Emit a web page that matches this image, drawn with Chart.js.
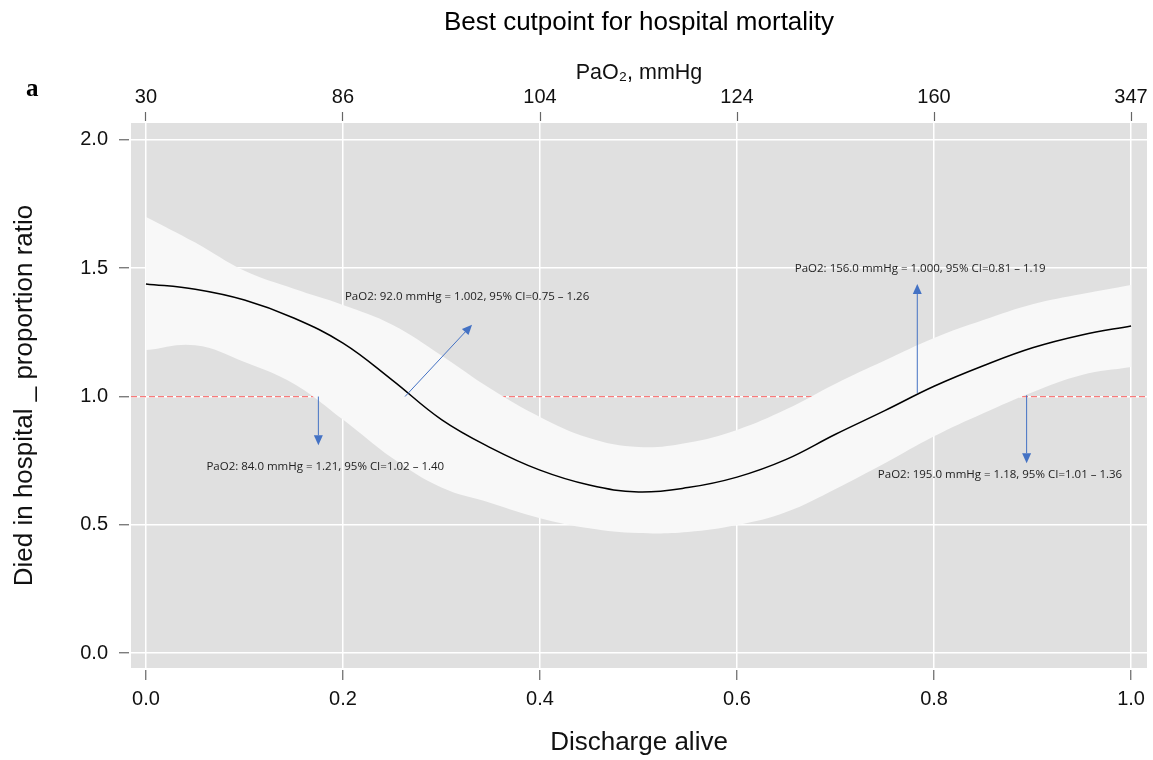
<!DOCTYPE html>
<html>
<head>
<meta charset="utf-8">
<title>Best cutpoint for hospital mortality</title>
<script src="https://cdn.jsdelivr.net/npm/chart.js@4.4.1/dist/chart.umd.min.js"></script>
<style>
  body { margin: 0; background: #ffffff; }
  #wrap { width: 1153px; height: 760px; position: relative; }
</style>
</head>
<body>
<div id="wrap"><canvas id="cutpointChart"></canvas></div>
<script>
// x positions of the fitted curve (Discharge alive)
const xValues = [0.00, 0.05, 0.10, 0.15, 0.20, 0.25, 0.30, 0.35, 0.40, 0.45, 0.50,
                 0.55, 0.60, 0.65, 0.70, 0.75, 0.80, 0.85, 0.90, 0.95, 1.00];
// proportion ratio and its 95% CI
const fitValues = [1.439, 1.418, 1.376, 1.306, 1.208, 1.064, 0.910, 0.800, 0.713, 0.655, 0.628,
                   0.645, 0.686, 0.755, 0.853, 0.945, 1.040, 1.120, 1.190, 1.240, 1.275];
const upperValues = [1.700, 1.600, 1.490, 1.420, 1.357, 1.280, 1.160, 1.030, 0.920, 0.838, 0.803,
                     0.820, 0.870, 0.950, 1.050, 1.140, 1.228, 1.298, 1.360, 1.400, 1.435];
const lowerValues = [1.181, 1.200, 1.135, 1.050, 0.910, 0.760, 0.645, 0.585, 0.526, 0.487, 0.468,
                     0.472, 0.499, 0.550, 0.640, 0.740, 0.845, 0.935, 1.017, 1.084, 1.115];
const refLevel = 1.0;

const xTicks = [0, 0.2, 0.4, 0.6, 0.8, 1.0];
const yTicks = [0, 0.5, 1.0, 1.5, 2.0];
const pao2TickLabels = ['30', '86', '104', '124', '160', '347'];

// annotation arrows: start, end and label anchor in data units
const noteTexts = [
  'PaO2: 84.0 mmHg = 1.21, 95% CI=1.02 \u2013 1.40',
  'PaO2: 92.0 mmHg = 1.002, 95% CI=0.75 \u2013 1.26',
  'PaO2: 156.0 mmHg = 1.000, 95% CI=0.81 \u2013 1.19',
  'PaO2: 195.0 mmHg = 1.18, 95% CI=1.01 \u2013 1.36'
];
const noteFrom = [[0.175, 1.0], [0.263, 1.0], [0.783, 1.014], [0.894, 1.005]];
const noteTo = [[0.175, 0.81], [0.331, 1.28], [0.783, 1.439], [0.894, 0.74]];
const noteAt = [[0.182, 0.725], [0.326, 1.388], [0.786, 1.497], [0.867, 0.694]];

const X_MIN = -0.0152, X_MAX = 1.0162;
const Y_MIN = -0.058, Y_MAX = 2.066;
const FONT = '"Liberation Sans", Arial, Helvetica, sans-serif';

const toPoints = (ys) => xValues.map((x, i) => ({ x: x, y: ys[i] }));

const panelBackground = {
  id: 'panelBackground',
  beforeDraw(chart) {
    const { ctx, chartArea: a } = chart;
    ctx.save();
    ctx.fillStyle = '#e0e0e0';
    ctx.fillRect(a.left, a.top, a.right - a.left, a.bottom - a.top);
    ctx.restore();
  }
};

const arrowNotes = {
  id: 'arrowNotes',
  afterDatasetsDraw(chart) {
    const { ctx } = chart;
    const sx = chart.scales.x, sy = chart.scales.y;
    ctx.save();
    ctx.strokeStyle = '#4472c4';
    ctx.fillStyle = '#4472c4';
    ctx.lineWidth = 1;
    noteFrom.forEach((from, i) => {
      const x1 = sx.getPixelForValue(from[0]), y1 = sy.getPixelForValue(from[1]);
      const x2 = sx.getPixelForValue(noteTo[i][0]), y2 = sy.getPixelForValue(noteTo[i][1]);
      const ang = Math.atan2(y2 - y1, x2 - x1);
      const head = 10, half = 4.5;
      const bx = x2 - head * Math.cos(ang), by = y2 - head * Math.sin(ang);
      ctx.beginPath();
      ctx.moveTo(x1, y1);
      ctx.lineTo(bx, by);
      ctx.stroke();
      ctx.beginPath();
      ctx.moveTo(x2, y2);
      ctx.lineTo(bx + half * Math.sin(ang), by - half * Math.cos(ang));
      ctx.lineTo(bx - half * Math.sin(ang), by + half * Math.cos(ang));
      ctx.closePath();
      ctx.fill();
    });
    ctx.fillStyle = '#222222';
    ctx.font = '11.5px "Open Sans", "Noto Sans", sans-serif';
    ctx.textAlign = 'center';
    ctx.textBaseline = 'middle';
    noteTexts.forEach((t, i) => {
      ctx.fillText(t, sx.getPixelForValue(noteAt[i][0]), sy.getPixelForValue(noteAt[i][1]));
    });
    // panel letter
    ctx.fillStyle = '#000000';
    ctx.font = 'bold 25px "Liberation Serif", "DejaVu Serif", serif';
    ctx.textAlign = 'left';
    ctx.fillText('a', 26, 90);
    ctx.restore();
  }
};

const ctx = document.getElementById('cutpointChart');
const cutpointChart = new Chart(ctx, {
  type: 'line',
  data: {
    datasets: [
      {
        label: 'Proportion ratio',
        data: toPoints(fitValues),
        borderColor: '#000000',
        borderWidth: 1.5,
        pointRadius: 0,
        tension: 0.4,
        fill: false,
      },
      {
        label: 'Upper 95% CI',
        data: toPoints(upperValues),
        borderWidth: 0,
        borderColor: 'rgba(0,0,0,0)',
        backgroundColor: '#f8f8f8',
        pointRadius: 0,
        tension: 0.4,
        fill: '+1',
      },
      {
        label: 'Lower 95% CI',
        data: toPoints(lowerValues),
        borderWidth: 0,
        borderColor: 'rgba(0,0,0,0)',
        pointRadius: 0,
        tension: 0.4,
        fill: false,
      },
      {
        label: 'Reference',
        data: [{ x: X_MIN, y: refLevel }, { x: X_MAX, y: refLevel }],
        borderColor: '#f77b7b',
        borderWidth: 1.2,
        borderDash: [6, 3],
        pointRadius: 0,
        fill: false,
      },
    ],
  },
  options: {
    responsive: true,
    maintainAspectRatio: false,
    animation: false,
    layout: { padding: { left: 0, right: 6, top: 0, bottom: 0 } },
    plugins: {
      legend: { display: false },
      tooltip: { enabled: false },
      title: {
        display: true,
        fullSize: false,
        text: 'Best cutpoint for hospital mortality',
        color: '#000000',
        font: { family: FONT, size: 26, weight: 'normal' },
        padding: { top: 7.4, bottom: 6.8 },
      },
    },
    scales: {
      x: {
        type: 'linear',
        position: 'bottom',
        min: X_MIN,
        max: X_MAX,
        afterBuildTicks: (s) => { s.ticks = xTicks.map((v) => ({ value: v })); },
        afterFit: (s) => { s.height = 92; s.paddingLeft = 0; s.paddingRight = 0; },
        border: { display: false },
        grid: {
          color: '#ffffff',
          lineWidth: 1.5,
          tickColor: '#666666',
          tickLength: 12,
          tickWidth: 1.2,
          tickBorderDash: [10, 2],
          tickBorderDashOffset: 10,
        },
        ticks: {
          color: '#111111',
          font: { family: FONT, size: 20 },
          padding: 7,
          maxRotation: 0,
          callback: (v) => Number(v).toFixed(1),
        },
        title: {
          display: true,
          text: 'Discharge alive',
          color: '#111111',
          font: { family: FONT, size: 26 },
          padding: { top: 0, bottom: 1.4 },
        },
      },
      x2: {
        type: 'linear',
        position: 'top',
        min: X_MIN,
        max: X_MAX,
        afterBuildTicks: (s) => { s.ticks = xTicks.map((v) => ({ value: v })); },
        afterFit: (s) => { s.height = 77.6; s.paddingLeft = 0; s.paddingRight = 0; },
        border: { display: false },
        grid: {
          drawOnChartArea: false,
          tickColor: '#666666',
          tickLength: 11,
          tickWidth: 1.2,
          tickBorderDash: [9, 2],
        },
        ticks: {
          color: '#111111',
          font: { family: FONT, size: 20 },
          padding: 3,
          maxRotation: 0,
          callback: (v, i) => pao2TickLabels[i],
        },
        title: {
          display: true,
          text: 'PaO\u2082, mmHg',
          color: '#111111',
          font: { family: FONT, size: 21.5 },
          padding: { top: 14.7, bottom: 0 },
        },
      },
      y: {
        type: 'linear',
        min: Y_MIN,
        max: Y_MAX,
        afterBuildTicks: (s) => { s.ticks = yTicks.map((v) => ({ value: v })); },
        afterFit: (s) => { s.width = 131; s.paddingTop = 0; s.paddingBottom = 0; },
        border: { display: false },
        grid: {
          color: '#ffffff',
          lineWidth: 1.5,
          tickColor: '#666666',
          tickLength: 12,
          tickWidth: 1.2,
          tickBorderDash: [10, 2],
        },
        ticks: {
          color: '#111111',
          font: { family: FONT, size: 20 },
          padding: 11,
          callback: (v) => Number(v).toFixed(1),
        },
        title: {
          display: true,
          text: 'Died in hospital _ proportion ratio',
          color: '#111111',
          font: { family: FONT, size: 26 },
          padding: { top: 9.4, bottom: 0 },
        },
      },
    },
  },
  plugins: [panelBackground, arrowNotes],
});
</script>
</body>
</html>
